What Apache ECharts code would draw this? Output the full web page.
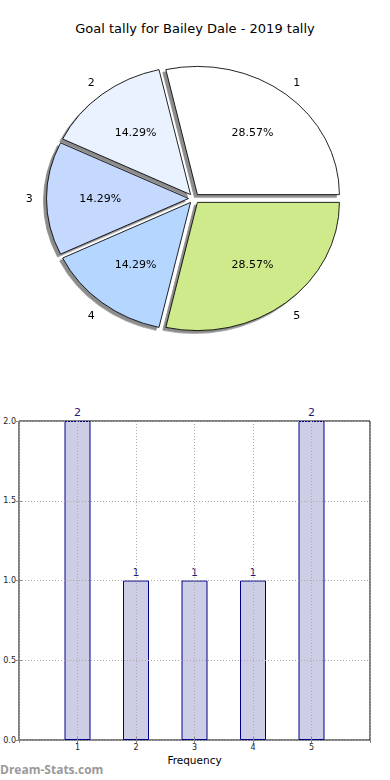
<!DOCTYPE html>
<html>
<head>
<meta charset="utf-8">
<script src="https://cdn.jsdelivr.net/npm/echarts@6/dist/echarts.min.js"></script>
<style>
  html, body { margin: 0; padding: 0; background: #fff; }
  #main { position: absolute; left: 0; top: 0; width: 390px; height: 780px; }
  #pie { position: absolute; left: 0; top: 0; width: 390px; height: 400px;
         transform-origin: 194px 198.5px; transform: scaleY(0.903); }
</style>
</head>
<body>
<div id="main"></div>
<div id="pie"></div>
<script>
// ---- data ----
const titleText = 'Goal tally for Bailey Dale - 2019 tally';
const categories = ['1', '2', '3', '4', '5'];
const goals = [2, 1, 1, 1, 2];
const xAxisName = 'Frequency';
const watermark = 'Dream-Stats.com';

// ---- styles ----
const sliceColors = ['#ffffff', '#ebf2ff', '#c5d9ff', '#b5d6ff', '#cfea8b'];
const FONT = 'DejaVu Sans';

const total = goals.reduce((a, b) => a + b, 0);
const pct = v => (v / total * 100).toFixed(2) + '%';

// ---- main chart: title + bar chart ----
const main = echarts.init(document.getElementById('main'), null, { renderer: 'svg' });
main.setOption({
  animation: false,
  backgroundColor: '#fff',
  title: {
    text: titleText, left: 'center', top: 17,
    textStyle: { fontFamily: FONT, fontSize: 13, fontWeight: 'normal', color: '#000' }
  },
  grid: { left: 19, right: 20, top: 421, bottom: 40, show: true, borderColor: '#000', borderWidth: 1, backgroundColor: 'transparent' },
  xAxis: [{
    type: 'value', min: 0, max: 6, interval: 1, z: 5,
    name: xAxisName, nameLocation: 'middle', nameGap: 14,
    nameTextStyle: { fontFamily: FONT, fontSize: 10.5, color: '#000' },
    axisLine: { show: false },
    axisTick: { show: true, inside: true, length: 3, lineStyle: { color: '#888' } },
    axisLabel: { fontFamily: FONT, fontSize: 8, color: '#222', margin: 3,
      formatter: v => (v >= 1 && v <= categories.length) ? categories[v - 1] : '' },
    splitLine: { show: true, lineStyle: { color: '#aaa', type: [1, 2], width: 1 } }
  }, {
    type: 'value', position: 'top', min: 0, max: 6, interval: 1, z: 5,
    axisLine: { show: false }, axisLabel: { show: false }, splitLine: { show: false },
    axisTick: { show: true, inside: true, length: 3, lineStyle: { color: '#888' } }
  }],
  yAxis: [{
    type: 'value', min: 0, max: 2, interval: 0.5, z: 5,
    axisLine: { show: false },
    axisTick: { show: true, inside: true, length: 3, lineStyle: { color: '#888' } },
    axisLabel: { fontFamily: FONT, fontSize: 8, color: '#222', margin: 3, formatter: v => v.toFixed(1) },
    splitLine: { show: true, lineStyle: { color: '#aaa', type: [1, 2], width: 1 } }
  }, {
    type: 'value', position: 'right', min: 0, max: 2, interval: 0.5, z: 5,
    axisLine: { show: false }, axisLabel: { show: false }, splitLine: { show: false },
    axisTick: { show: true, inside: true, length: 3, lineStyle: { color: '#888' } }
  }],
  series: [{
    type: 'bar', xAxisIndex: 0, yAxisIndex: 0,
    barWidth: 26,
    data: categories.map((c, i) => [Number(c), goals[i]]),
    itemStyle: { color: '#cdcee6', borderColor: '#00008b', borderWidth: 1 },
    label: { show: true, position: 'top', distance: 3, fontFamily: FONT, fontSize: 11, color: '#1c1c78',
      formatter: p => String(p.value[1]) },
    emphasis: { disabled: true }
  }],
  graphic: [{
    type: 'text', left: 0, top: 763,
    style: { text: watermark, fontFamily: 'Open Sans', fontWeight: 'bold', fontSize: 12, fill: '#9a9a9a' }
  }]
});

// ---- pie chart (scaled vertically to match elliptical pie) ----
const R = 142;
const center = [194, 198.5];
const pie = echarts.init(document.getElementById('pie'), null, { renderer: 'svg' });

// mid angle of each slice (counter-clockwise from 3 o'clock) for label alignment
let acc = 0;
const midAngles = goals.map(v => { const a = (acc + v / 2) / total * 2 * Math.PI; acc += v; return a; });

const baseData = categories.map((c, i) => ({ name: c, value: goals[i], selected: true }));
const common = {
  type: 'pie', center: center, startAngle: 0, clockwise: false,
  selectedMode: 'multiple', selectedOffset: 5.5, avoidLabelOverlap: false,
  emphasis: { disabled: true }, animation: false, silent: true, labelLine: { show: false }
};

pie.setOption({
  animation: false,
  series: [
    Object.assign({}, common, {
      radius: [0, R],
      data: baseData.map((d, i) => Object.assign({}, d, { itemStyle: { color: sliceColors[i] } })),
      itemStyle: { borderColor: '#000', borderWidth: 0.9, shadowColor: 'rgba(0,0,0,0.45)', shadowOffsetX: -3, shadowOffsetY: 3, shadowBlur: 1 },
      label: { show: false }
    }),
    Object.assign({}, common, {
      radius: [R * 0.2, R],
      data: baseData,
      itemStyle: { color: 'rgba(0,0,0,0)', borderWidth: 0 },
      label: { show: true, position: 'inside', fontFamily: FONT, fontSize: 11, color: '#000',
        formatter: p => pct(p.value) }
    }),
    Object.assign({}, common, {
      radius: [R * 1.05, R * 1.15],
      data: baseData.map((d, i) => Object.assign({}, d, {
        label: { offset: [Math.cos(midAngles[i]) >= 0 ? 3.5 : -3.5, 0] }
      })),
      itemStyle: { color: 'rgba(0,0,0,0)', borderWidth: 0 },
      label: { show: true, position: 'inside', fontFamily: FONT, fontSize: 11, color: '#000',
        formatter: p => p.name }
    })
  ]
});
</script>
</body>
</html>
